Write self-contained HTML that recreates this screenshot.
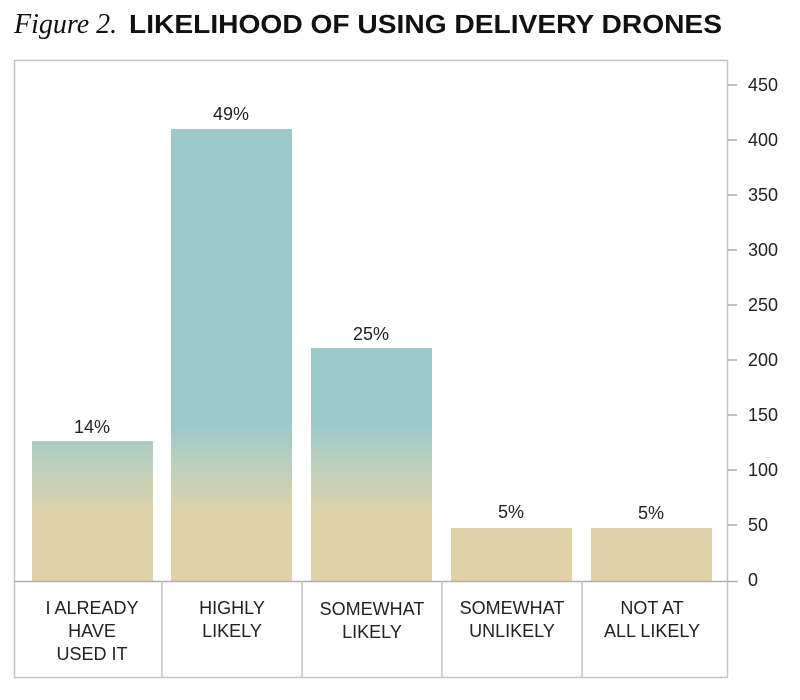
<!DOCTYPE html>
<html><head><meta charset="utf-8"><style>html,body{margin:0;padding:0;background:#fff;}</style></head>
<body>
<svg width="800" height="695" viewBox="0 0 800 695" xmlns="http://www.w3.org/2000/svg">
<defs>
<linearGradient id="g" gradientUnits="userSpaceOnUse" x1="0" y1="425" x2="0" y2="515">
<stop offset="0" stop-color="#9dc9cb"/><stop offset="0.45" stop-color="#bcd0bd"/><stop offset="1" stop-color="#e0d1a8"/>
</linearGradient>
</defs>
<text x="14" y="33" font-family="Liberation Serif, serif" font-style="italic" font-size="28" fill="#111">Figure 2.</text>
<text x="129" y="33" font-family="Liberation Sans, sans-serif" font-size="26" font-weight="600" fill="#111" textLength="593" lengthAdjust="spacingAndGlyphs">LIKELIHOOD OF USING DELIVERY DRONES</text>
<rect x="14.5" y="60.5" width="713" height="617" fill="none" stroke="#c4c4c4" stroke-width="1.5"/>
<g fill="url(#g)">
<rect x="32" y="441" width="121" height="140"/>
<rect x="171" y="129" width="121" height="452"/>
<rect x="311" y="348" width="121" height="233"/>
<rect x="451" y="528" width="121" height="53"/>
<rect x="591" y="528" width="121" height="53"/>
</g>
<line x1="14" y1="581.5" x2="738" y2="581.5" stroke="#b0b0b0" stroke-width="1.5"/>
<g stroke="#c4c4c4" stroke-width="1.5">
<line x1="162" y1="581" x2="162" y2="678"/><line x1="302" y1="581" x2="302" y2="678"/>
<line x1="442" y1="581" x2="442" y2="678"/><line x1="582" y1="581" x2="582" y2="678"/>
</g>
<g stroke="#999" stroke-width="1.2">
<line x1="728" y1="85" x2="737" y2="85"/><line x1="728" y1="140" x2="737" y2="140"/><line x1="728" y1="195" x2="737" y2="195"/>
<line x1="728" y1="250" x2="737" y2="250"/><line x1="728" y1="305" x2="737" y2="305"/><line x1="728" y1="360" x2="737" y2="360"/>
<line x1="728" y1="415" x2="737" y2="415"/><line x1="728" y1="470" x2="737" y2="470"/><line x1="728" y1="525" x2="737" y2="525"/>
</g>
<g font-family="Liberation Sans, sans-serif" font-size="18" fill="#222">
<text x="748" y="91">450</text><text x="748" y="146">400</text><text x="748" y="201">350</text>
<text x="748" y="256">300</text><text x="748" y="311">250</text><text x="748" y="366">200</text>
<text x="748" y="421">150</text><text x="748" y="476">100</text><text x="748" y="531">50</text><text x="748" y="586">0</text>
</g>
<g font-family="Liberation Sans, sans-serif" font-size="18" fill="#222" text-anchor="middle">
<text x="92" y="433">14%</text><text x="231" y="120">49%</text><text x="371" y="340">25%</text>
<text x="511" y="518">5%</text><text x="651" y="519">5%</text>
</g>
<g font-family="Liberation Sans, sans-serif" font-size="18" fill="#222" text-anchor="middle">
<text x="92" y="614">I ALREADY</text><text x="92" y="637">HAVE</text><text x="92" y="660">USED IT</text>
<text x="232" y="614">HIGHLY</text><text x="232" y="637">LIKELY</text>
<text x="372" y="615">SOMEWHAT</text><text x="372" y="638">LIKELY</text>
<text x="512" y="614">SOMEWHAT</text><text x="512" y="637">UNLIKELY</text>
<text x="652" y="614">NOT AT</text><text x="652" y="637">ALL LIKELY</text>
</g>
</svg>
</body></html>
